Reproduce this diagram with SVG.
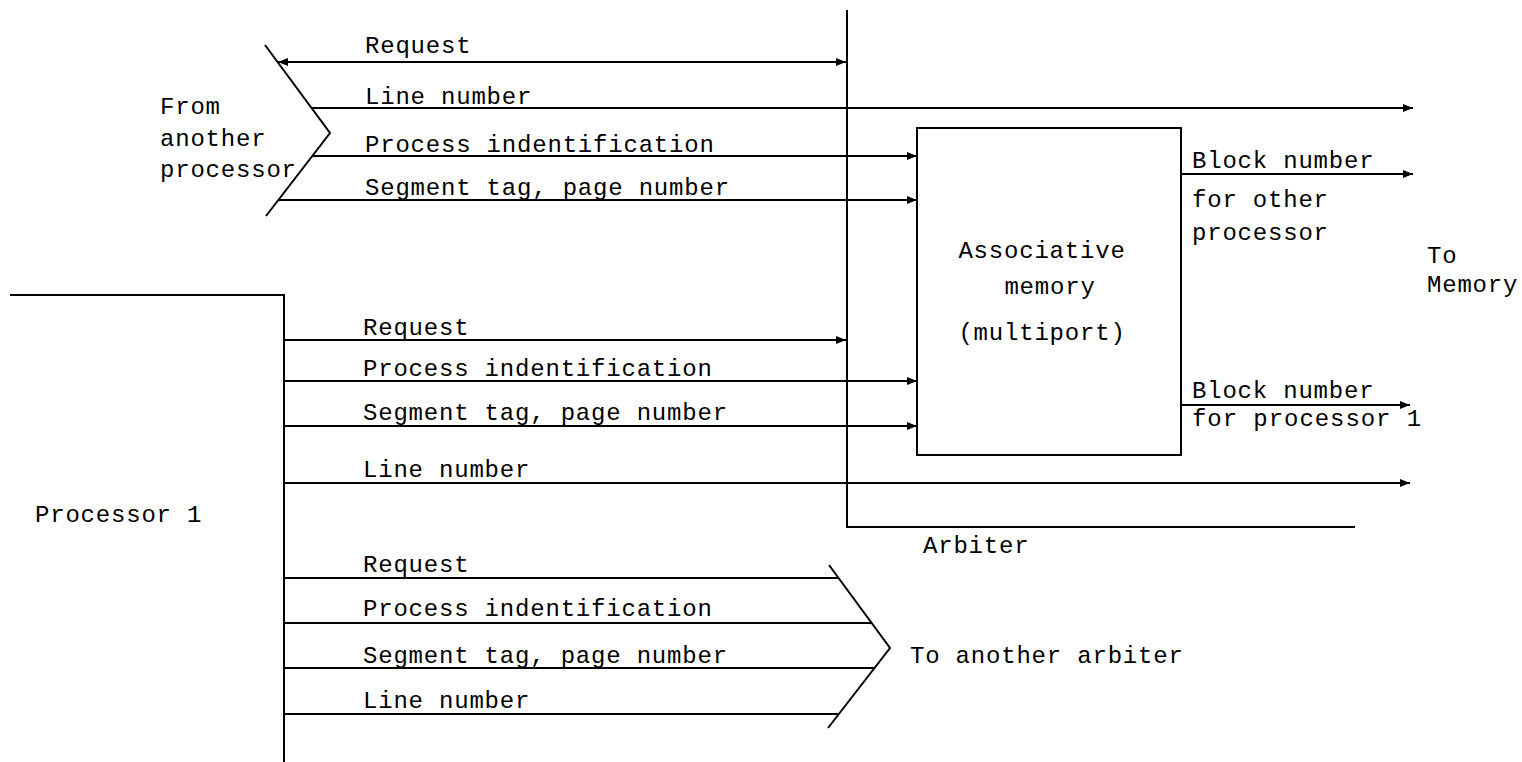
<svg xmlns="http://www.w3.org/2000/svg" width="1522" height="762" viewBox="0 0 1522 762">
<style>
.ln{stroke:#000;stroke-width:2;fill:none}
.ar{marker-end:url(#ah)}
text{font-family:"Liberation Mono","DejaVu Sans Mono",monospace;font-size:24px;letter-spacing:0.8px;fill:#000}
.mid{text-anchor:middle}
</style>
<defs>
<marker id="ah" viewBox="0 0 10 8" refX="10" refY="4" markerWidth="10" markerHeight="8" markerUnits="userSpaceOnUse" orient="auto-start-reverse">
<path d="M0,0 L10,4 L0,8 Z" fill="#000"/>
</marker>
</defs>
<rect width="1522" height="762" fill="#fff"/>
<g id="from-another-processor">
<polyline class="ln" points="265,45 330,133 266,216"/>
<text x="160" y="114">From</text>
<text x="160" y="146">another</text>
<text x="160" y="177">processor</text>
</g>
<g id="processor-1">
<polyline class="ln" points="10,295 284,295 284,762"/>
<text x="35" y="522">Processor 1</text>
</g>
<g id="arbiter">
<polyline class="ln" points="847,10 847,527 1355,527"/>
<text x="923" y="553">Arbiter</text>
</g>
<g id="associative-memory">
<rect class="ln" x="917" y="128" width="264" height="327"/>
<text class="mid" x="1042" y="258">Associative</text>
<text class="mid" x="1050" y="294">memory</text>
<text class="mid" x="1042" y="340">(multiport)</text>
</g>
<g id="to-another-arbiter">
<polyline class="ln" points="829,565 890,648 828,728"/>
<text x="910" y="663">To another arbiter</text>
</g>
<g id="to-memory">
<text x="1427" y="263">To</text>
<text x="1427" y="292">Memory</text>
</g>
<g id="connectors">
<line class="ln ar" x1="278" y1="62" x2="846" y2="62" marker-start="url(#ah)"/>
<line class="ln ar" x1="312" y1="108" x2="1413" y2="108"/>
<line class="ln ar" x1="312" y1="156" x2="917" y2="156"/>
<line class="ln ar" x1="278" y1="200" x2="917" y2="200"/>
<line class="ln ar" x1="1181" y1="174" x2="1413" y2="174"/>
<line class="ln ar" x1="1181" y1="405" x2="1410" y2="405"/>
<line class="ln ar" x1="284" y1="340" x2="846" y2="340"/>
<line class="ln ar" x1="284" y1="381" x2="917" y2="381"/>
<line class="ln ar" x1="284" y1="426" x2="917" y2="426"/>
<line class="ln ar" x1="284" y1="483" x2="1410" y2="483"/>
<line class="ln" x1="284" y1="578" x2="839" y2="578"/>
<line class="ln" x1="284" y1="623" x2="872" y2="623"/>
<line class="ln" x1="284" y1="668" x2="875" y2="668"/>
<line class="ln" x1="284" y1="714" x2="839" y2="714"/>
</g>
<g id="labels">
<text x="365" y="53">Request</text>
<text x="365" y="104">Line number</text>
<text x="365" y="152">Process indentification</text>
<text x="365" y="195">Segment tag, page number</text>
<text x="1192" y="168">Block number</text>
<text x="1192" y="207">for other</text>
<text x="1192" y="240">processor</text>
<text x="363" y="335">Request</text>
<text x="363" y="376">Process indentification</text>
<text x="363" y="420">Segment tag, page number</text>
<text x="363" y="477">Line number</text>
<text x="1192" y="398">Block number</text>
<text x="1192" y="426" textLength="230" lengthAdjust="spacing">for processor 1</text>
<text x="363" y="572">Request</text>
<text x="363" y="616">Process indentification</text>
<text x="363" y="663">Segment tag, page number</text>
<text x="363" y="708">Line number</text>
</g>
</svg>
